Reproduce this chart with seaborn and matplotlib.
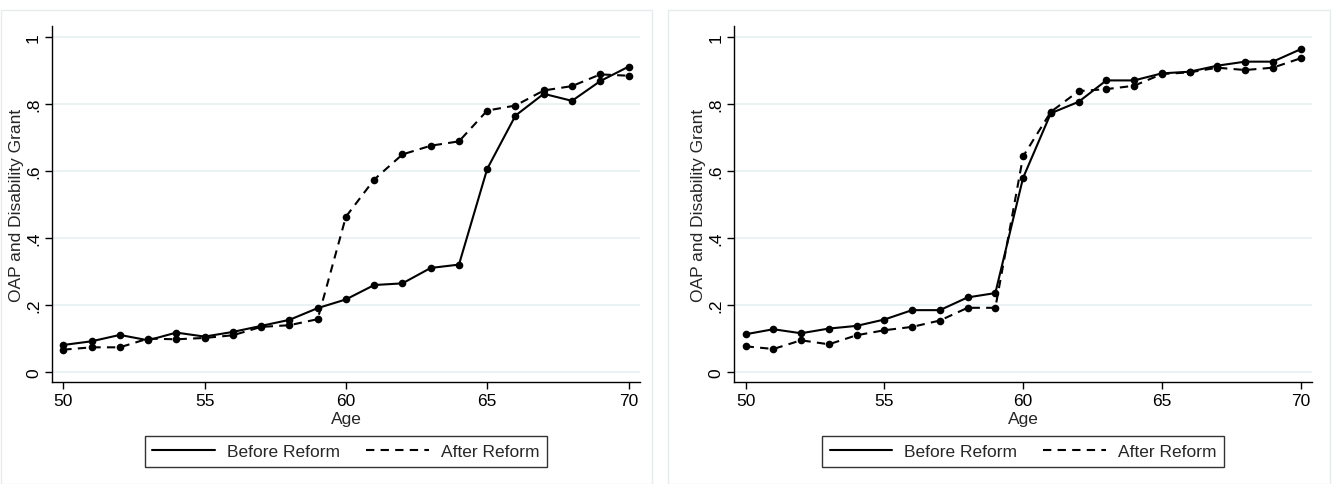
import pandas as pd
import seaborn as sns
import matplotlib.pyplot as plt
from matplotlib.lines import Line2D
from matplotlib.patches import Rectangle

ages = list(range(50, 71))

left_before = [0.081, 0.092, 0.111, 0.095, 0.118, 0.106, 0.120, 0.138, 0.156, 0.191, 0.217,
               0.260, 0.265, 0.311, 0.321, 0.607, 0.766, 0.831, 0.810, 0.869, 0.912]
left_after = [0.067, 0.074, 0.074, 0.100, 0.098, 0.102, 0.110, 0.135, 0.140, 0.158, 0.464,
              0.575, 0.650, 0.676, 0.689, 0.781, 0.796, 0.841, 0.854, 0.889, 0.885]
right_before = [0.113, 0.128, 0.116, 0.130, 0.138, 0.157, 0.185, 0.185, 0.223, 0.236, 0.580,
                0.773, 0.807, 0.871, 0.871, 0.892, 0.897, 0.915, 0.927, 0.927, 0.964]
right_after = [0.077, 0.069, 0.095, 0.083, 0.110, 0.125, 0.135, 0.154, 0.192, 0.192, 0.644,
               0.777, 0.839, 0.845, 0.855, 0.890, 0.895, 0.909, 0.902, 0.909, 0.937]

series_names = ["Before Reform", "After Reform"]
x_ticks = [50, 55, 60, 65, 70]
y_ticks = [0, 0.2, 0.4, 0.6, 0.8, 1.0]
y_tick_labels = ["0", ".2", ".4", ".6", ".8", "1"]


def long_frame(before, after):
    return pd.concat([
        pd.DataFrame({"Age": ages, "value": before, "period": series_names[0]}),
        pd.DataFrame({"Age": ages, "value": after, "period": series_names[1]}),
    ])


sns.set_theme(style="white")
plt.rcParams["font.family"] = ["Liberation Sans", "DejaVu Sans"]

fig = plt.figure(figsize=(13.33, 4.85), dpi=100)

# faint panel borders
for x0, w in [(0.001, 0.488), (0.501, 0.497)]:
    fig.patches.append(Rectangle((x0, 0.0), w, 0.978, transform=fig.transFigure,
                                 fill=False, edgecolor="#e6ecee", linewidth=1.0))

ax_pos = [[0.039, 0.210, 0.441, 0.734], [0.551, 0.210, 0.433, 0.734]]
panels = [(left_before, left_after), (right_before, right_after)]
fs = 12.5

for pos, (before, after) in zip(ax_pos, panels):
    ax = fig.add_axes(pos)
    df = long_frame(before, after)
    sns.lineplot(
        data=df, x="Age", y="value", style="period",
        style_order=series_names,
        dashes={series_names[0]: "", series_names[1]: (4, 3)},
        markers={series_names[0]: "o", series_names[1]: "o"},
        color="black", linewidth=1.5, markersize=5.5, markeredgewidth=0,
        legend=False, ax=ax,
    )
    ax.set_xlim(49.6, 70.4)
    ax.set_ylim(-0.03, 1.033)
    ax.set_xticks(x_ticks)
    ax.set_yticks(y_ticks)
    ax.set_yticklabels(y_tick_labels, rotation=90, va="center")
    ax.grid(axis="y", color="#e8f0f1", linewidth=1.2)
    ax.set_axisbelow(True)
    for side in ["top", "right"]:
        ax.spines[side].set_visible(False)
    for side in ["left", "bottom"]:
        ax.spines[side].set_color("black")
        ax.spines[side].set_linewidth(1.0)
    ax.tick_params(axis="both", direction="out", length=5, width=1.0,
                   color="black", labelsize=fs, labelcolor="black",
                   left=True, bottom=True, pad=3)
    ax.set_xlabel("Age", fontsize=fs, labelpad=2)
    ax.set_ylabel("OAP and Disability Grant", fontsize=fs, labelpad=1.5)

    handles = [
        Line2D([], [], color="black", linewidth=1.5),
        Line2D([], [], color="black", linewidth=1.5, dashes=(4, 3)),
    ]
    leg = ax.legend(handles, series_names, loc="center", ncol=2,
                    bbox_to_anchor=(0.5, -0.195), frameon=True, fancybox=False,
                    edgecolor="black", fontsize=fs, handlelength=3.6,
                    columnspacing=1.5, borderpad=0.45, handletextpad=0.7,
                    borderaxespad=0)
    leg.get_frame().set_linewidth(1.0)

fig.savefig("out.png", dpi=100)
